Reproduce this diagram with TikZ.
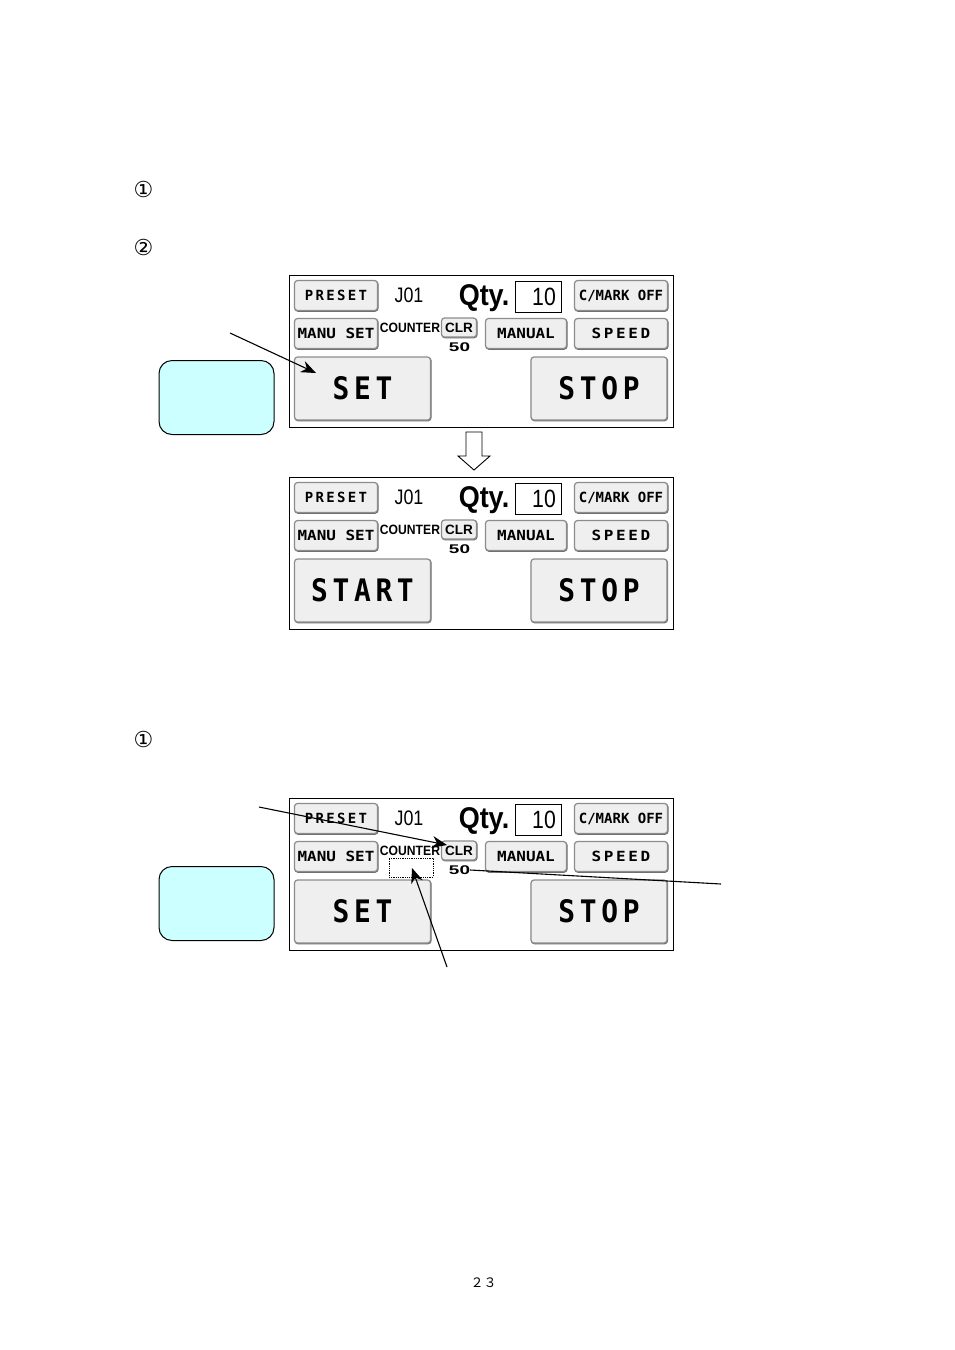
\documentclass[tikz,border=0pt]{standalone}
\usepackage{fontspec}
\setmainfont{Liberation Sans}
\newfontfamily\keyfont{DejaVu Sans Mono}
\newfontfamily\symfont{DejaVu Sans}
\newfontfamily\cjkfont{Noto Sans CJK JP}
\usetikzlibrary{arrows.meta}
\definecolor{btnface}{HTML}{EFEFEF}
\definecolor{btnedge}{HTML}{8C8C8C}
\definecolor{btnshade}{HTML}{6E6E6E}
\definecolor{callcyan}{HTML}{CCFFFF}
\newcommand{\widekey}[1]{\scalebox{1.14}[1]{#1}}
\newcommand{\bigkey}[1]{\scalebox{.9}[1]{#1}}
\tikzset{
  btn/.style={draw=btnedge,fill=btnface,line width=1.2pt,rounded corners=3pt,inner sep=0pt,text=black,
    preaction={draw=btnshade,line width=1.2pt,transform canvas={shift={(0.5pt,-0.7pt)}}}},
  smallbtn/.style={btn,minimum width=83pt,minimum height=30pt,font=\keyfont\bfseries\fontsize{14}{14}\selectfont},
  bigbtn/.style={btn,minimum width=136pt,minimum height=63pt,font=\keyfont\bfseries\fontsize{31}{32}\selectfont},
  callout/.style={draw=black,fill=callcyan,line width=1pt,rounded corners=13pt,minimum width=115pt,minimum height=74pt,inner sep=0pt},
  pointer/.style={line width=1.1pt,-{Stealth[length=15pt,width=12pt]}},
  numlabel/.style={font=\symfont\fontsize{22}{22}\selectfont,inner sep=0pt},
  pics/panel/.style={code={
    \draw[line width=0.9pt,fill=white] (0,0) rectangle (384,152);
    \node[smallbtn] (-preset) at (47,20.5) {P\,R\,E\,S\,E\,T};
    \node[smallbtn] (-mark) at (332,20.5) [minimum width=93pt] {C/MARK OFF};
    \node[smallbtn] (-manu) at (47,58.5) {\widekey{MANU SET}};
    \node[smallbtn] (-manual) at (237,58.5) [minimum width=81pt] {\widekey{MANUAL}};
    \node[smallbtn] (-speed) at (332,58.5) [minimum width=93pt] {\widekey{S\,P\,E\,E\,D}};
    \node[btn,minimum width=35pt,minimum height=19pt,font=\bfseries\fontsize{13.5}{14}\selectfont] (-clr) at (170,52.5) {CLR};
    \node[inner sep=0pt,font=\bfseries\fontsize{13.5}{14}\selectfont] (-counter) at (121,52.5) {\scalebox{.9}[1]{COUNTER}};
    \node[inner sep=0pt,font=\bfseries\fontsize{14}{14}\selectfont] (-cnt) at (170.5,72) {\scalebox{1.35}[.9]{50}};
    \node[inner sep=0pt,font=\fontsize{21}{21}\selectfont] (-job) at (120,20.5) {\scalebox{.85}[1]{J01}};
    \node[inner sep=0pt,font=\bfseries\fontsize{30}{30}\selectfont] (-qty) at (195,23) {\scalebox{.9}[1]{Qty.}};
    \node[draw,line width=1pt,minimum width=46pt,minimum height=31pt,inner sep=3pt,anchor=north west,align=right,font=\fontsize{25}{25}\selectfont] (-qtybox) at (225.5,5.5) {\hspace*{12pt}\scalebox{.85}[1]{10}};
    \node[bigbtn] (-go) at (73.5,113.5) {\bigkey{#1}};
    \node[bigbtn] (-stop) at (310,113.5) {\bigkey{S\,T\,O\,P}};
  }}
}
\begin{document}
\begin{tikzpicture}[x=1pt,y=-1pt]
\useasboundingbox (0,0) rectangle (954,1350);
\fill[white] (0,0) rectangle (954,1350);
\node[numlabel] (stepa) at (143.5,189) {①};
\node[numlabel] (stepb) at (143.5,247) {②};
\node[numlabel] (stepc) at (143.5,739) {①};
\pic (top) at (289,275) {panel={S\,E\,T}};
\pic (mid) at (289,477) {panel={S\,T\,A\,R\,T}};
\pic (low) at (289,798) {panel={S\,E\,T}};
% down arrow between the first two screens
\draw[line width=0.9pt,fill=white] (466,432) -- (482,432) -- (482,456) -- (490,456) -- (474,470) -- (458,456) -- (466,456) -- cycle;
\node[callout] (calla) at (216.5,397.5) {};
\node[callout] (callb) at (216.5,903.5) {};
\node[draw=black,densely dotted,line width=0.8pt,minimum width=44pt,minimum height=19pt,inner sep=0pt] (blank) at (411,867.5) {};
\coordinate (seta) at (230,333);
\coordinate (setb) at (316,373);
\coordinate (clra) at (259,807);
\coordinate (clrb) at (447,845);
\coordinate (blanka) at (447,967);
\coordinate (blankb) at (412,868);
\coordinate (cnta) at (721,884);
\draw[pointer] (seta) -- (setb);
\draw[pointer] (clra) -- (clrb);
\draw[pointer] (blanka) -- (blankb);
\draw[line width=1.1pt] (cnta) -- (low-cnt.east);
\node[font=\cjkfont\fontsize{13}{13}\selectfont,inner sep=0pt] (pageno) at (483.5,1282.5) {２３};
\end{tikzpicture}
\end{document}
